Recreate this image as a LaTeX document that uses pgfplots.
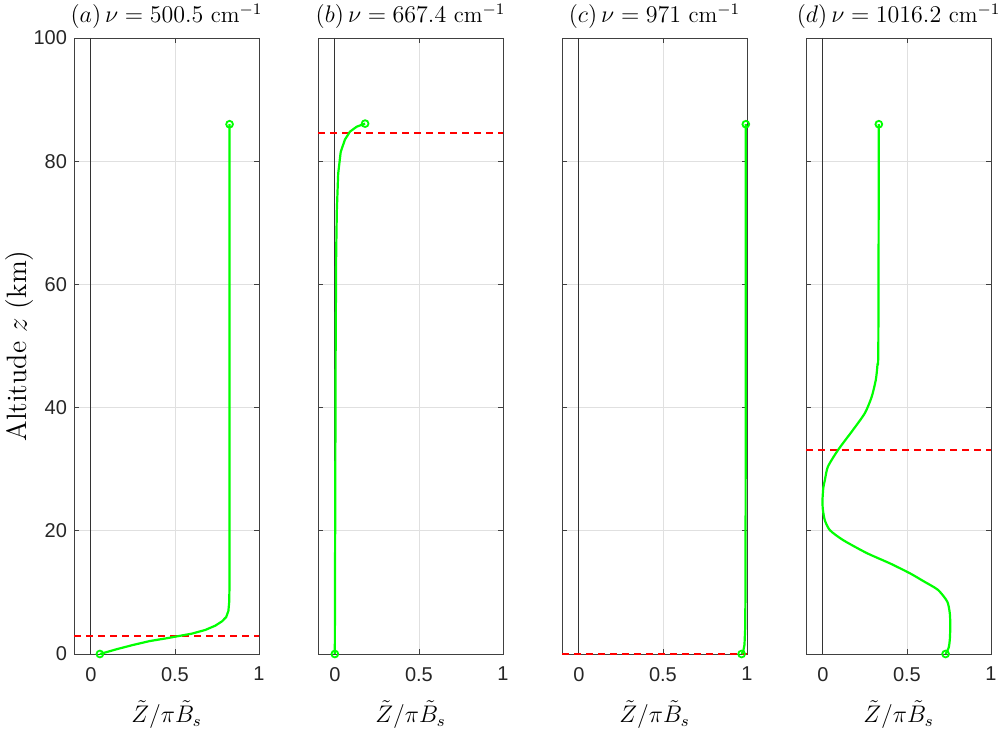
\documentclass[border=0pt]{standalone}
\usepackage{fontspec}
\usepackage{pgfplots}
\pgfplotsset{compat=1.18}
\newfontfamily\helv{Liberation Sans}
\definecolor{mgreen}{rgb}{0,1,0}
\pgfplotsset{
  panel/.style={
    scale only axis, width=92.5pt, height=308pt,
    xmin=-0.1, xmax=1, ymin=0, ymax=100,
    xtick={0,0.5,1}, ytick={0,20,40,60,80,100},
    xticklabels={0,0.5,1},
    tick align=inside, major tick length=2.5pt,
    axis line style={draw=black!75}, tick style={black!75, line width=0.4pt},
    xmajorgrids, ymajorgrids, grid style={black!12, line width=0.4pt},
    clip=false,
    /pgf/number format/assume math mode=true,
    ticklabel style={font=\helv\fontsize{10}{12}\selectfont, text=black!85},
    xticklabel style={yshift=-3pt},
    title style={font=\fontsize{11.5}{13}\selectfont, yshift=-5pt},
    xlabel={$\tilde{Z}/\pi\tilde{B}_s$},
    xlabel style={font=\fontsize{11.5}{13}\selectfont, yshift=-3pt},
  },
  zline/.style={black!80, line width=0.5pt},
  rline/.style={red, line width=1.2pt, dash pattern=on 3.5pt off 2.5pt},
  noyl/.style={yticklabels={,,,,,}},
}
\begin{document}
\begin{tikzpicture}
\useasboundingbox (0,0) rectangle (500.5pt,366.5pt);
% (a)
\begin{axis}[panel, at={(37pt,39.5pt)}, anchor=south west,
  title={$(a)\,\nu=500.5\ \mathrm{cm}^{-1}$},
  ylabel={Altitude $z$ (km)},
  ylabel style={font=\fontsize{14}{16}\selectfont, yshift=-7pt}]
\addplot[zline] coordinates {(0,0) (0,100)};
\addplot[rline] coordinates {(-0.1,2.9) (1,2.9)};
\addplot[mgreen, line width=1.1pt] coordinates {
(0.054,0) (0.15,0.75) (0.25,1.46) (0.35,2.1) (0.45,2.55) (0.5,2.8) (0.6,3.3)
(0.68,3.9) (0.74,4.6) (0.78,5.3) (0.805,6.0) (0.818,7.0) (0.823,8.5) (0.825,12) (0.825,86)};
\addplot[only marks, mgreen, mark=o, mark size=1.7pt, line width=0.9pt] coordinates {(0.054,0) (0.825,86)};
\end{axis}
% (b)
\begin{axis}[panel, noyl, at={(159pt,39.5pt)}, anchor=south west,
  title={$(b)\,\nu=667.4\ \mathrm{cm}^{-1}$}]
\addplot[zline] coordinates {(0,0) (0,100)};
\addplot[rline] coordinates {(-0.1,84.6) (1,84.6)};
\addplot[mgreen, line width=1.1pt] coordinates {
(0,0) (0.002,20) (0.005,50) (0.008,65) (0.012,72) (0.02,78) (0.035,81.5) (0.06,83.5) (0.09,84.8) (0.13,85.6) (0.18,86.1)};
\addplot[only marks, mgreen, mark=o, mark size=1.7pt, line width=0.9pt] coordinates {(0,0) (0.18,86.1)};
\end{axis}
% (c)
\begin{axis}[panel, noyl, at={(281pt,39.5pt)}, anchor=south west,
  title={$(c)\,\nu=971\ \mathrm{cm}^{-1}$}]
\addplot[zline] coordinates {(0,0) (0,100)};
\addplot[rline] coordinates {(-0.1,0) (1,0)};
\addplot[mgreen, line width=1.1pt] coordinates {
(0.968,0) (0.978,0.5) (0.985,1.5) (0.989,4) (0.991,10) (0.992,30) (0.993,86)};
\addplot[only marks, mgreen, mark=o, mark size=1.7pt, line width=0.9pt] coordinates {(0.968,0) (0.993,86)};
\end{axis}
% (d)
\begin{axis}[panel, noyl, at={(403pt,39.5pt)}, anchor=south west,
  title={$(d)\,\nu=1016.2\ \mathrm{cm}^{-1}$}]
\addplot[zline] coordinates {(0,0) (0,100)};
\addplot[rline] coordinates {(-0.1,33.1) (1,33.1)};
\addplot[mgreen, line width=1.1pt, smooth, tension=0.4] coordinates {
(0.73,0) (0.748,1) (0.755,2.3) (0.758,4.5) (0.755,6.6) (0.74,8.5) (0.685,10.4) (0.6,11.8)
(0.518,13.1) (0.4,14.7) (0.26,16.4) (0.12,18.5) (0.042,20.1) (0.012,21.7) (0.0,23.5)
(-0.002,25) (0.003,27) (0.012,28.2) (0.03,30.4) (0.09,33.1) (0.18,36.4) (0.25,39.1)
(0.29,41.7) (0.315,44.5) (0.325,47) (0.33,50) (0.333,86)};
\addplot[only marks, mgreen, mark=o, mark size=1.7pt, line width=0.9pt] coordinates {(0.73,0) (0.333,86)};
\end{axis}
\end{tikzpicture}
\end{document}
